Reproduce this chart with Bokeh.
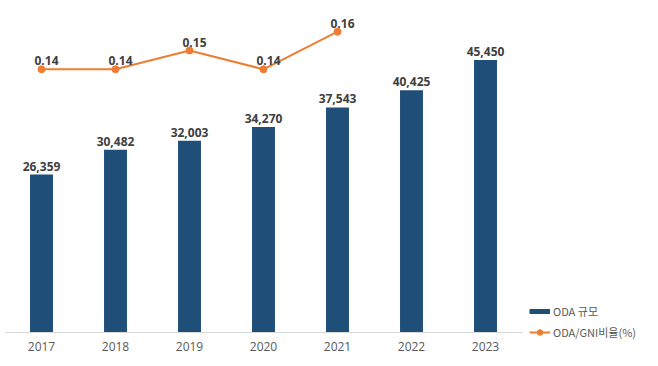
from bokeh.plotting import figure
from bokeh.models import ColumnDataSource, Range1d, FactorRange, Legend, LegendItem
from bokeh.core.properties import value
from bokeh.embed import file_html
from bokeh.resources import INLINE

years = ["2017", "2018", "2019", "2020", "2021", "2022", "2023"]
oda_amount = [26359, 30482, 32003, 34270, 37543, 40425, 45450]
ratio_years = ["2017", "2018", "2019", "2020", "2021"]
oda_gni_ratio = [0.14, 0.14, 0.15, 0.14, 0.16]

bar_src = ColumnDataSource(dict(x=years, y=oda_amount, label=[f"{v:,}" for v in oda_amount]))
line_src = ColumnDataSource(dict(x=ratio_years, y=oda_gni_ratio, label=[f"{v:.2f}" for v in oda_gni_ratio]))

p = figure(x_range=FactorRange(factors=years), y_range=Range1d(0, 55389),
           frame_width=518, frame_height=332,
           min_border_left=4, min_border_top=0, min_border_bottom=30, min_border_right=132,
           output_backend="svg", toolbar_location=None)
p.extra_y_ranges = {"ratio": Range1d(0, 0.1766)}

bars = p.vbar(x="x", top="y", width=0.31, source=bar_src, fill_color="#1F4E79", line_color=None)
p.text(x="x", y="y", text="label", source=bar_src, text_align="center", text_baseline="bottom",
       y_offset=-4, text_font=value("Open Sans"), text_font_size="12px", text_font_style="bold",
       text_color="#404040")

ln = p.line(x="x", y="y", source=line_src, y_range_name="ratio", line_color="#ED7D31", line_width=2)
pts = p.scatter(x="x", y="y", source=line_src, y_range_name="ratio", size=7,
                fill_color="#ED7D31", line_color="#ED7D31")
p.text(x="x", y="y", text="label", source=line_src, y_range_name="ratio", text_align="center",
       text_baseline="bottom", y_offset=-4, x_offset=5, text_font=value("Open Sans"),
       text_font_size="12px", text_font_style="bold", text_color="#404040")

# legend key for the bar series: a thick short swatch (draws nothing in the plot)
bar_key = p.line(x=years, y=[float("nan")] * len(years), line_color="#1F4E79", line_width=5)

p.yaxis.visible = False
p.xgrid.grid_line_color = None
p.ygrid.grid_line_color = None
p.outline_line_color = None
p.xaxis.axis_line_color = "#D9D9D9"
p.xaxis.major_tick_line_color = None
p.xaxis.minor_tick_line_color = None
p.xaxis.major_label_text_font = "Open Sans"
p.xaxis.major_label_text_font_size = "12px"
p.xaxis.major_label_text_color = "#595959"
p.xaxis.major_label_standoff = 3

legend = Legend(items=[LegendItem(label="ODA 규모", renderers=[bar_key]),
                       LegendItem(label="ODA/GNI비율(%)", renderers=[ln, pts])],
                location=(7, -8), orientation="vertical",
                glyph_width=21, glyph_height=14, label_height=14, spacing=5,
                label_standoff=3, padding=0, margin=0,
                border_line_color=None, background_fill_alpha=0,
                label_text_font="Noto Sans CJK KR", label_text_font_size="11px",
                label_text_color="#595959")
p.add_layout(legend, "right")

open("out.html", "w").write(file_html(p, INLINE))
